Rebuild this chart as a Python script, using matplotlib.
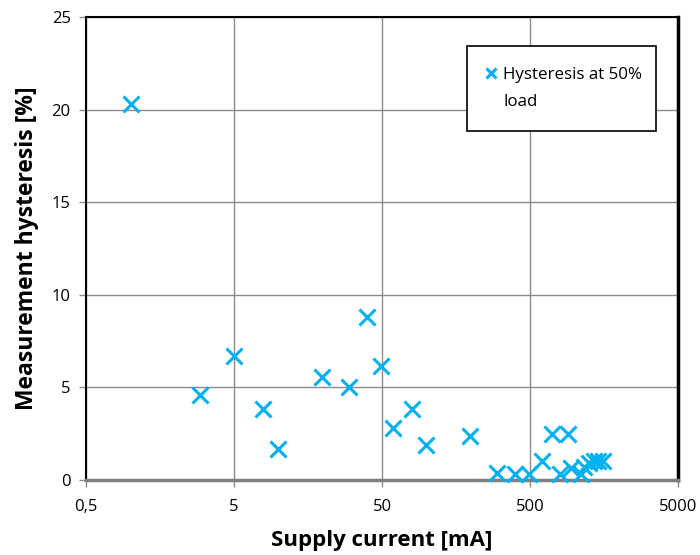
import matplotlib
matplotlib.use("Agg")
import matplotlib.pyplot as plt
from matplotlib.lines import Line2D
from matplotlib.patches import Rectangle

supply_current_mA = [1.0, 2.95, 5.0, 7.9, 9.9, 19.8, 29.8, 39.8, 49.5, 59, 80, 99,
                     197, 300, 395, 490, 600, 707, 800, 900, 950, 1100, 1150,
                     1250, 1350, 1450, 1550]
hysteresis_pct = [20.3, 4.57, 6.68, 3.81, 1.65, 5.53, 5.02, 8.8, 6.16, 2.8, 3.8, 1.87,
                  2.37, 0.37, 0.31, 0.31, 1.0, 2.44, 0.3, 2.44, 0.6, 0.3, 0.7,
                  0.9, 1.0, 1.0, 1.0]
x_ticks = [0.5, 5, 50, 500, 5000]
x_tick_labels = ["0,5", "5", "50", "500", "5000"]
y_ticks = [0, 5, 10, 15, 20, 25]
legend_lines = ["Hysteresis at 50%", "load"]

plt.rcParams['font.family'] = ['Open Sans', 'DejaVu Sans']
W, H = 700, 555
fig = plt.figure(figsize=(7, 5.55), dpi=100)
L, R, B, T = 86, 678, 479.5, 17.3
ax = fig.add_axes([L / W, 1 - B / H, (R - L) / W, (B - T) / H])

color = '#00B0F0'
ax.plot(supply_current_mA, hysteresis_pct, linestyle='none', marker='x',
        markersize=11, markeredgewidth=2.2, color=color, zorder=3, clip_on=False)

ax.set_xscale('log')
ax.set_xlim(0.5, 5000)
ax.set_ylim(0, 25)
ax.set_xticks(x_ticks)
ax.set_xticklabels(x_tick_labels)
ax.xaxis.set_minor_locator(matplotlib.ticker.NullLocator())
ax.set_yticks(y_ticks)
ax.grid(True, color='#8c8c8c', linewidth=1)
ax.set_axisbelow(True)
ax.tick_params(axis='both', labelsize=12, color='#8c8c8c', length=5, width=1, direction='out')
ax.tick_params(axis='x', pad=9)
ax.tick_params(axis='y', pad=6)

for s in ['left', 'top']:
    ax.spines[s].set_color('black')
    ax.spines[s].set_linewidth(1.5)
ax.spines['right'].set_color('black')
ax.spines['right'].set_linewidth(2.5)
ax.spines['bottom'].set_color('#7f7f7f')
ax.spines['bottom'].set_linewidth(2.5)

ax.set_xlabel("Supply current [mA]", fontsize=16, fontweight='bold', labelpad=11)
ax.set_ylabel("Measurement hysteresis [%]", fontsize=16.5, fontweight='bold', labelpad=9)

# legend box
fig.patches.append(Rectangle((467 / W, 1 - 131 / H), (656 - 467) / W, (131 - 46) / H,
                             transform=fig.transFigure, facecolor='white',
                             edgecolor='black', linewidth=1.2, zorder=5))
handles = [Line2D([], [], linestyle='none', marker='x', markersize=7,
                  markeredgewidth=2.2, color=color),
           Line2D([], [], linestyle='none')]
leg = fig.legend(handles, legend_lines, loc='upper left',
                 bbox_to_anchor=(483 / W, 1 - 67 / H), frameon=False,
                 fontsize=12.2, handlelength=1.0, handletextpad=0.2,
                 labelspacing=0.65, borderpad=0, borderaxespad=0)
leg.set_zorder(6)

fig.savefig("out.png", dpi=100)
